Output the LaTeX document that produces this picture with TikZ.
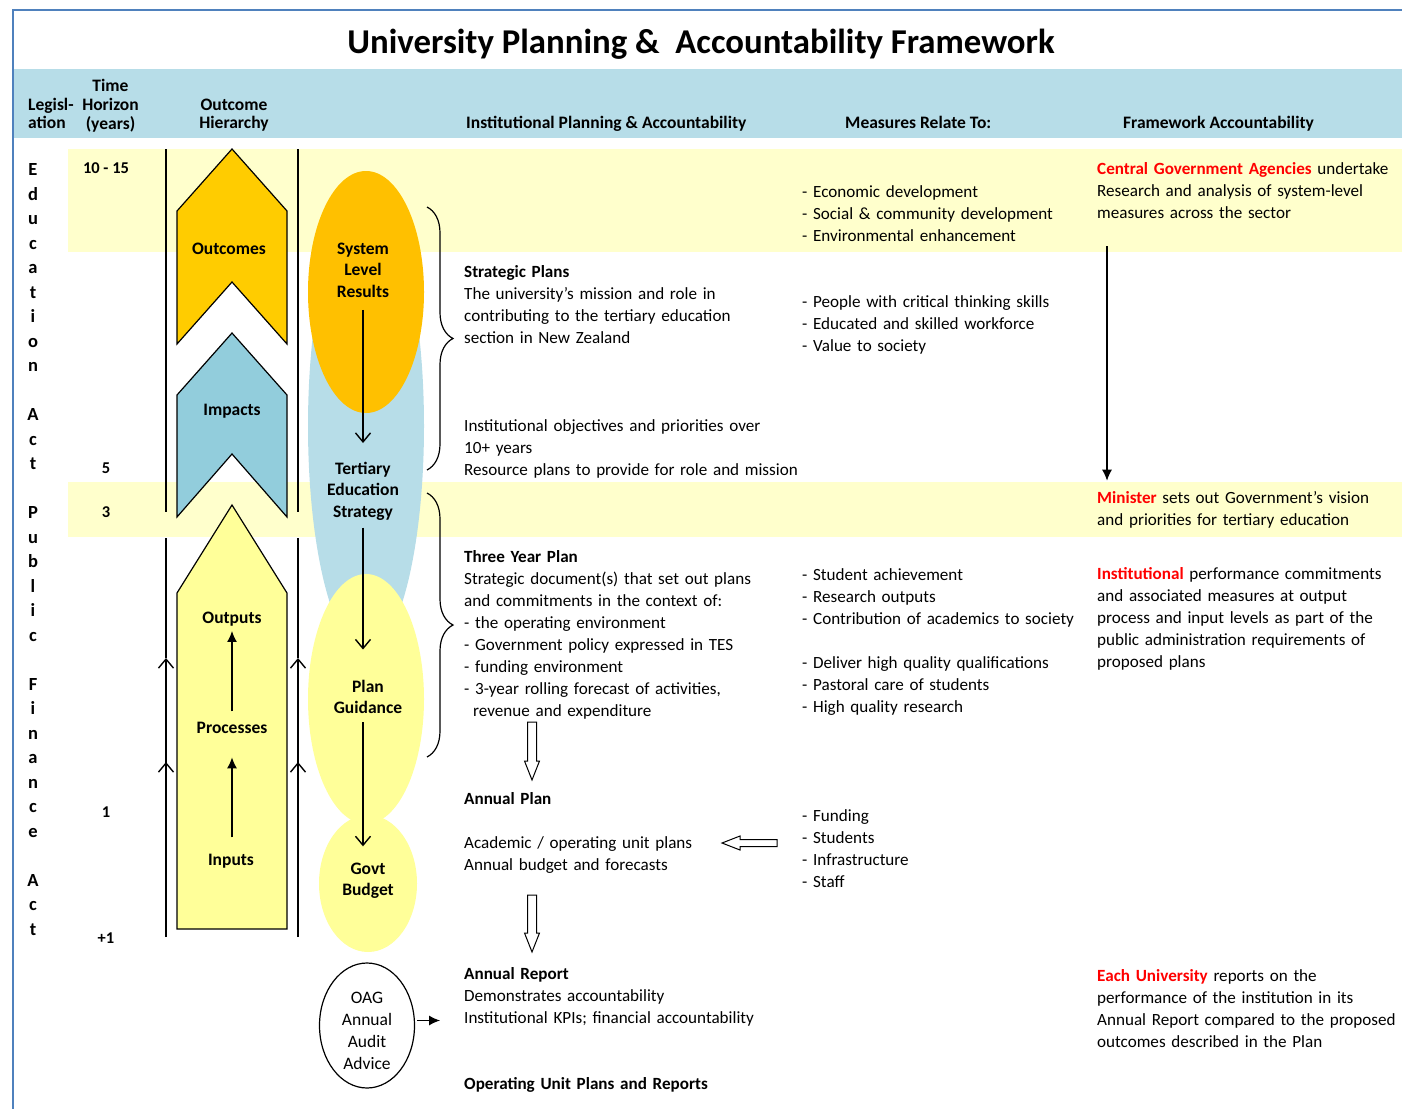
\documentclass[tikz,border=0pt]{standalone}
\usepackage{fontspec}
\setmainfont{Carlito}
\usetikzlibrary{arrows.meta,decorations.pathreplacing,shapes.geometric}
\definecolor{frameblue}{RGB}{79,129,189}
\definecolor{headblue}{RGB}{183,221,232}
\definecolor{bandyellow}{RGB}{255,255,204}
\definecolor{chevgold}{RGB}{255,204,0}
\definecolor{deepgold}{RGB}{255,192,0}
\definecolor{impactblue}{RGB}{146,205,220}
\definecolor{paleyellow}{RGB}{255,255,153}
\definecolor{accred}{RGB}{255,0,0}
\newcommand{\redbf}[1]{\textcolor{accred}{\textbf{#1}}}
\tikzset{
  body/.style={font=\fontsize{17.1}{22}\selectfont, anchor=base west, inner sep=0pt, align=left, text width=#1},
  body/.default=420pt,
  hdr/.style={font=\bfseries\fontsize{17.5}{18.5}\selectfont, inner sep=0pt},
  lbl/.style={font=\bfseries\fontsize{17.5}{21.5}\selectfont, inner sep=0pt, align=center, text width=120pt, anchor=base},
  yrs/.style={font=\bfseries\fontsize{16.5}{20}\selectfont, inner sep=0pt, anchor=base},
  shapeline/.style={draw=black, line width=1.2pt, line join=miter},
  barb/.style={line width=1.4pt, -{Straight Barb[length=9pt,width=15pt]}},
  solidtip/.style={line width=1.4pt, -{Latex[length=11pt,width=10pt]}},
  hollow/.style={draw=black, fill=white, line width=1pt},
  vline/.style={line width=1.3pt},
  bracestyle/.style={line width=1.2pt, decorate, decoration={brace, amplitude=26pt}},
  oval/.style={ellipse, inner sep=0pt},
}
\begin{document}
\begin{tikzpicture}[x=1pt,y=-1pt]
\useasboundingbox (0,0) rectangle (1402,1108);
% frame and bands
\draw[frameblue, line width=1.6pt] (13,1110) -- (13,10) -- (1404,10);
\fill[headblue] (14,69) rectangle (1402,138);
\fill[bandyellow] (68,149) rectangle (1402,252);
\fill[bandyellow] (68,482) rectangle (1402,537);
% title
\node[font=\bfseries\fontsize{34.8}{40}\selectfont, inner sep=0pt, anchor=base] (title) at (701,53) {University Planning \&\ \ Accountability Framework};
% headers
\node[hdr, align=left, text width=60pt, anchor=base west] (hleg) at (28,110) {Legisl-\\ation};
\node[hdr, align=center, text width=80pt, anchor=base] (htime) at (110.5,92) {Time\\Horizon\\(years)};
\node[hdr, align=center, text width=100pt, anchor=base] (hout) at (234,110) {Outcome\\Hierarchy};
\node[hdr, anchor=base west] (hipa) at (466,128) {Institutional Planning \& Accountability};
\node[hdr, anchor=base west] (hmeas) at (845,128) {Measures Relate To:};
\node[hdr, anchor=base west] (hfw) at (1123,128) {Framework Accountability};
% legislation letters
\node[font=\bfseries\fontsize{18.5}{24.5}\selectfont, inner sep=0pt, align=center, text width=20pt, anchor=base] (legis) at (33,175.5)
 {E\\d\\u\\c\\a\\t\\i\\o\\n\\[24.5pt]A\\c\\t\\[24.5pt]P\\u\\b\\l\\i\\c\\[24.5pt]F\\i\\n\\a\\n\\c\\e\\[24.5pt]A\\c\\t};
% time horizon
\node[yrs] (t1015) at (106,173) {10 - 15};
\node[yrs] (t5) at (106,473) {5};
\node[yrs] (t3) at (106,517) {3};
\node[yrs] (t1) at (106,817) {1};
\node[yrs] (tp1) at (106,943) {+1};
% vertical hierarchy lines
\draw[vline] (166,149) -- (166,512);
\draw[vline] (298,149) -- (298,512);
\draw[vline] (166,538) -- (166,658);
\draw[vline] (298,538) -- (298,658);
\draw[barb] (166,813) -- (166,658);
\draw[barb] (298,813) -- (298,658);
\draw[barb] (166,937) -- (166,762);
\draw[barb] (298,937) -- (298,762);
% chevrons
\draw[shapeline, fill=chevgold] (232,149) -- (287,211) -- (287,344) -- (232,282) -- (177,344) -- (177,211) -- cycle;
\draw[shapeline, fill=impactblue] (232,333) -- (287,395) -- (287,517) -- (232,454) -- (177,517) -- (177,395) -- cycle;
\draw[shapeline, fill=paleyellow] (232,505) -- (287,593) -- (287,929) -- (177,929) -- (177,593) -- cycle;
\node[lbl] (outcT) at (229,254) {Outcomes};
\node[lbl] (impT) at (232,415) {Impacts};
\node[lbl] (outpT) at (232,623) {Outputs};
\node[lbl] (procT) at (232,733) {Processes};
\node[lbl] (inpT) at (231,865) {Inputs};
\draw[solidtip, shorten <=10pt, shorten >=5pt] (procT.north) -- (procT.north |- outpT.south);
\draw[solidtip, shorten <=16pt, shorten >=24pt] (inpT.north -| procT.north) -- (procT.south);
% ellipses
\node[oval, fill=headblue, minimum width=116pt, minimum height=452pt] (tes) at (366,426) {};
\node[oval, fill=deepgold, minimum width=116pt, minimum height=242pt] (sys) at (366,292) {};
\node[oval, fill=paleyellow, minimum width=116pt, minimum height=250pt] (plan) at (366,699) {};
\node[oval, fill=paleyellow, minimum width=98pt, minimum height=137pt] (budget) at (368,883.5) {};
\node[oval, draw=black, line width=1.2pt, fill=white, minimum width=95pt, minimum height=125pt] (oag) at (367,1025.5) {};
\node[lbl] (sysT) at (363,254) {System\\Level\\Results};
\node[lbl] (tesT) at (363,474) {Tertiary\\Education\\Strategy};
\node[lbl] (planT) at (368,692) {Plan\\Guidance};
\node[lbl] (budT) at (368,874) {Govt\\Budget};
\node[lbl, font=\fontsize{17.5}{22}\selectfont] (oagT) at (367,1003) {OAG\\Annual\\Audit\\Advice};
\draw[barb, shorten <=12.5pt, shorten >=18.5pt] (sysT.south) -- (sysT.south |- tesT.north);
\draw[barb, shorten <=7.5pt, shorten >=30pt] (tesT.south) -- (tesT.south |- planT.north);
\draw[barb, shorten <=8.5pt, shorten >=16pt] (planT.south -| tesT.south) -- (budT.north -| tesT.south);
% braces
\draw[bracestyle] (427,207) -- (427,470);
\draw[bracestyle] (427,493) -- (427,757);
% institutional planning text
\node[body] (sp) at (464,277) {\textbf{Strategic Plans}\\The university’s mission and role in\\contributing to the tertiary education\\section in New Zealand};
\node[body] (obj) at (464,431) {Institutional objectives and priorities over\\10+ years\\Resource plans to provide for role and mission};
\node[body] (typ) at (464,562) {\textbf{Three Year Plan}\\Strategic document(s) that set out plans\\and commitments in the context of:\\- the operating environment\\- Government policy expressed in TES\\- funding environment\\- 3-year rolling forecast of activities,\\\hspace*{9pt}revenue and expenditure};
\node[body] (ap) at (464,804) {\textbf{Annual Plan}};
\node[body] (apd) at (464,848) {Academic / operating unit plans\\Annual budget and forecasts};
\node[body] (ar) at (464,979) {\textbf{Annual Report}\\Demonstrates accountability\\Institutional KPIs; financial accountability};
\node[body] (oup) at (464,1089) {\textbf{Operating Unit Plans and Reports}};
% hollow block arrows
\draw[hollow] (527.5,722) -- (536.5,722) -- (536.5,761) -- (539.5,761) -- (532,780) -- (524.5,761) -- (527.5,761) -- cycle;
\draw[hollow] (527.5,895) -- (536.5,895) -- (536.5,933) -- (539.5,933) -- (532,952) -- (524.5,933) -- (527.5,933) -- cycle;
\draw[hollow] (777,839.5) -- (740,839.5) -- (740,836) -- (722,843) -- (740,850) -- (740,846.5) -- (777,846.5) -- cycle;
\draw[solidtip, shorten <=2pt] ([yshift=5pt]oag.east) -- ++(25,0);
% measures
\node[body] (m1) at (802,197) {- Economic development\\- Social \& community development\\- Environmental enhancement};
\node[body] (m2) at (802,307) {- People with critical thinking skills\\- Educated and skilled workforce\\- Value to society};
\node[body] (m3) at (802,580) {- Student achievement\\- Research outputs\\- Contribution of academics to society};
\node[body] (m4) at (802,668) {- Deliver high quality qualifications\\- Pastoral care of students\\- High quality research};
\node[body] (m5) at (802,821) {- Funding\\- Students\\- Infrastructure\\- Staff};
% framework accountability
\node[body=320pt] (cga) at (1097,174) {\redbf{Central Government Agencies} undertake\\Research and analysis of system-level\\measures across the sector};
\node[body=320pt] (mins) at (1097,503) {\redbf{Minister} sets out Government’s vision\\and priorities for tertiary education};
\node[body=320pt] (inst) at (1097,579) {\redbf{Institutional} performance commitments\\and associated measures at output\\process and input levels as part of the\\public administration requirements of\\proposed plans};
\node[body=320pt] (eu) at (1097,981) {\redbf{Each University} reports on the\\performance of the institution in its\\Annual Report compared to the proposed\\outcomes described in the Plan};
\draw[solidtip] ([xshift=10pt, yshift=-28pt]cga.south west) -- ([xshift=10pt, yshift=10pt]mins.north west);
\end{tikzpicture}
\end{document}
